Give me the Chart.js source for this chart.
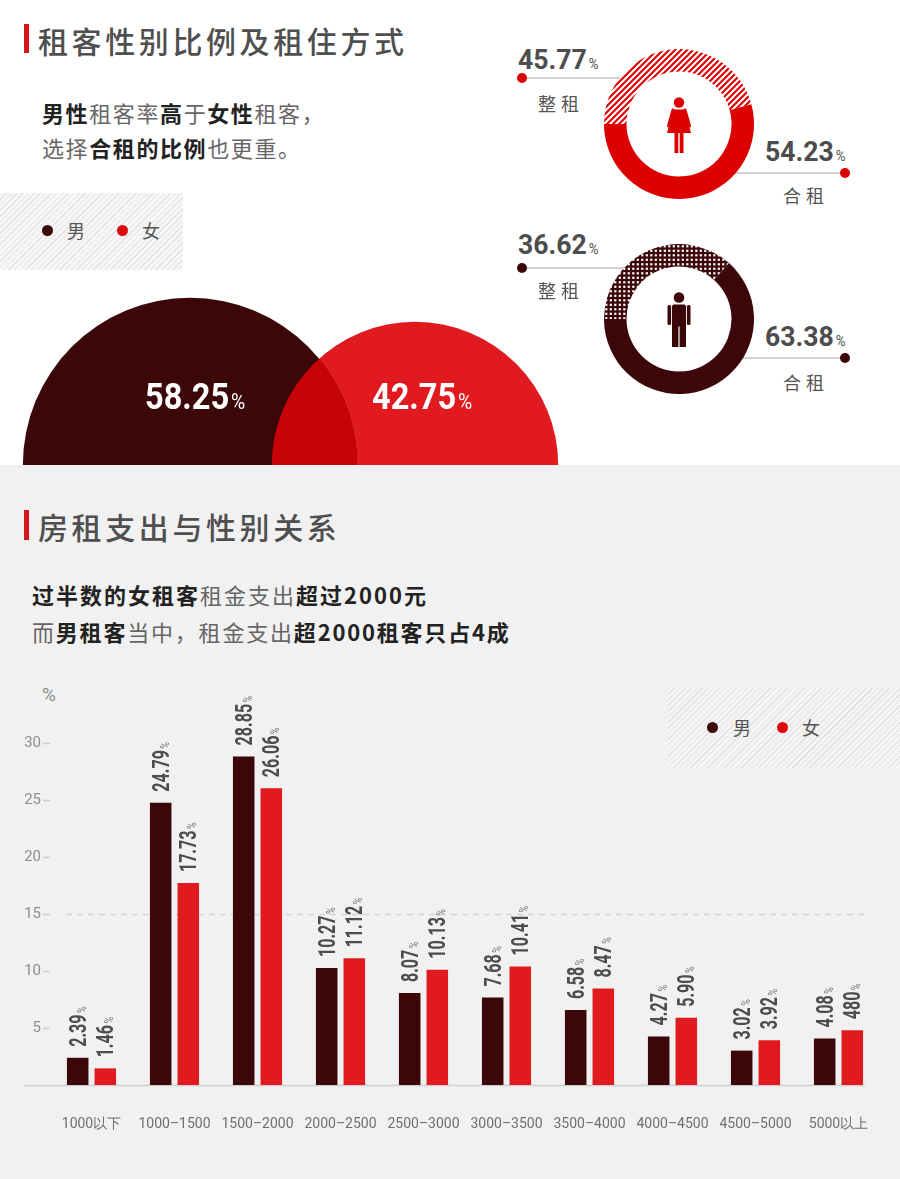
<!DOCTYPE html>
<html>
<head>
<meta charset="utf-8">
<script src="https://cdn.jsdelivr.net/npm/chart.js@4.4.1/dist/chart.umd.min.js"></script>
<style>
body { margin: 0; width: 900px; height: 1179px; overflow: hidden; position: relative; background: #f1f1f1; font-family: "Noto Sans CJK SC", sans-serif; }
#top { position: absolute; left: 0; top: 0; width: 900px; height: 465px; background: #fff; }
canvas { position: absolute; }
.redbar { position: absolute; left: 24px; width: 5px; background: #d5161b; }
.title { position: absolute; left: 38px; font-size: 30px; line-height: 30px; color: #4f4f4f; font-weight: 500; letter-spacing: 3.6px; white-space: nowrap; }
.sub { position: absolute; font-size: 22px; line-height: 22px; color: #666; white-space: nowrap; }
.sub b { color: #222; font-weight: 700; }
.legend { position: absolute; background: repeating-linear-gradient(135deg, #e3e3e3 0 1px, #f6f6f6 1px 4px); }
.dot { position: absolute; width: 11px; height: 11px; border-radius: 50%; }
.lt { position: absolute; font-size: 18px; line-height: 18px; color: #555; }
.num { position: absolute; font-family: Roboto, sans-serif; font-weight: 700; line-height: 1; white-space: nowrap; transform-origin: 0 0; }
.line { position: absolute; height: 1.5px; background: #d2d2d2; }
.mode { position: absolute; font-size: 18px; line-height: 18px; color: #555; letter-spacing: 5px; white-space: nowrap; }
.icon { position: absolute; }
</style>
</head>
<body>
<div id="top"></div>

<div class="redbar" style="top:24px;height:29px"></div>
<div class="title" style="top:25px">租客性别比例及租住方式</div>
<div class="sub" style="left:42px;top:101px;letter-spacing:1.6px"><b>男性</b>租客率<b>高</b>于<b>女性</b>租客，</div>
<div class="sub" style="left:42px;top:136px;letter-spacing:1.6px">选择<b>合租的比例</b>也更重。</div>

<div class="legend" style="left:0;top:193px;width:183px;height:77px"></div>
<div class="dot" style="left:41.5px;top:224.5px;background:#3b0708"></div>
<div class="lt" style="left:67px;top:221px">男</div>
<div class="dot" style="left:116.5px;top:224.5px;background:#dd0a0a"></div>
<div class="lt" style="left:142px;top:221px">女</div>

<div class="line" style="left:522px;top:77px;width:105px"></div>
<div class="line" style="left:730px;top:172px;width:115px"></div>
<div class="line" style="left:522px;top:267px;width:108px"></div>
<div class="line" style="left:735px;top:357px;width:110px"></div>
<div class="dot" style="left:517px;top:73px;width:10px;height:10px;background:#dd0000"></div>
<div class="dot" style="left:840px;top:168px;width:10px;height:10px;background:#dd0000"></div>
<div class="dot" style="left:517px;top:263px;width:10px;height:10px;background:#3b0708"></div>
<div class="dot" style="left:840px;top:353px;width:10px;height:10px;background:#3b0708"></div>

<canvas id="circles" width="675" height="195" style="left:-35px;top:270px;width:675px;height:195px"></canvas>
<canvas id="donutF" width="150" height="150" style="left:604px;top:49px;width:150px;height:150px"></canvas>
<canvas id="donutM" width="150" height="150" style="left:604px;top:244px;width:150px;height:150px"></canvas>

<svg class="icon" style="left:666px;top:97px" width="26" height="56" viewBox="0 0 26 56">
  <circle cx="13" cy="5.5" r="5.2" fill="#dd0000"/>
  <path d="M7.5 12.5 H18.5 L25 36 H1 Z" fill="#dd0000"/>
  <path d="M7 13 L2.5 29" stroke="#dd0000" stroke-width="3" stroke-linecap="round"/>
  <path d="M19 13 L23.5 29" stroke="#dd0000" stroke-width="3" stroke-linecap="round"/>
  <rect x="8.5" y="35" width="3.8" height="21" fill="#dd0000"/>
  <rect x="13.7" y="35" width="3.8" height="21" fill="#dd0000"/>
</svg>
<svg class="icon" style="left:667px;top:292px" width="24" height="55" viewBox="0 0 24 55">
  <circle cx="12" cy="5.5" r="5.3" fill="#3b0708"/>
  <rect x="5" y="12.5" width="14" height="22" rx="2" fill="#3b0708"/>
  <rect x="0.5" y="13" width="3.6" height="20" rx="1.5" fill="#3b0708"/>
  <rect x="19.9" y="13" width="3.6" height="20" rx="1.5" fill="#3b0708"/>
  <rect x="5" y="33" width="6.4" height="22" fill="#3b0708"/>
  <rect x="12.6" y="33" width="6.4" height="22" fill="#3b0708"/>
</svg>

<div class="redbar" style="top:510px;height:30px"></div>
<div class="title" style="top:511px">房租支出与性别关系</div>
<div class="sub" style="left:32px;top:583px;letter-spacing:2px"><b>过半数的女租客</b>租金支出<b>超过2000元</b></div>
<div class="sub" style="left:32px;top:620px;letter-spacing:1.8px">而<b>男租客</b>当中，租金支出<b>超2000租客只占4成</b></div>

<div class="lt" style="left:42px;top:685px;font-family:Roboto,sans-serif;color:#8a8a8a;font-size:19px;line-height:19px">%</div>

<div class="legend" style="left:668px;top:688px;width:232px;height:80px;background:repeating-linear-gradient(135deg,#e2e2e2 0 1px,#f4f4f4 1px 4px)"></div>
<div class="dot" style="left:706.5px;top:721.5px;background:#3b0708"></div>
<div class="lt" style="left:733px;top:718px">男</div>
<div class="dot" style="left:776.5px;top:721.5px;background:#dd0a0a"></div>
<div class="lt" style="left:802px;top:718px">女</div>

<canvas id="bars" width="900" height="465" style="left:0;top:680px;width:900px;height:465px"></canvas>

<script>
// 租客性别比例
var genderLabels = ['男', '女'];
var genderShare = [58.25, 42.75];

// 租住方式
var modeLabels = ['整租', '合租'];
var femaleMode = [45.77, 54.23];
var maleMode = [36.62, 63.38];

// 房租支出与性别
var rentRanges = ['1000以下', '1000–1500', '1500–2000', '2000–2500', '2500–3000', '3000–3500', '3500–4000', '4000–4500', '4500–5000', '5000以上'];
var maleRent = [2.39, 24.79, 28.85, 10.27, 8.07, 7.68, 6.58, 4.27, 3.02, 4.08];
var femaleRent = [1.46, 17.73, 26.06, 11.12, 10.13, 10.41, 8.47, 5.90, 3.92, 4.80];
var maleRentText = ['2.39', '24.79', '28.85', '10.27', '8.07', '7.68', '6.58', '4.27', '3.02', '4.08'];
var femaleRentText = ['1.46', '17.73', '26.06', '11.12', '10.13', '10.41', '8.47', '5.90', '3.92', '480'];
var yTicks = [5, 10, 15, 20, 25, 30];
var dashedAt = 15;

var MAROON = '#3b0708';
var RED = '#e01a1e';
var DONUT_RED = '#dd0000';
var LENS = '#c80308';

function stripePattern(color) {
    var s = 6;
    var c = document.createElement('canvas');
    c.width = s; c.height = s;
    var g = c.getContext('2d');
    g.fillStyle = '#fff';
    g.fillRect(0, 0, s, s);
    g.strokeStyle = color;
    g.lineWidth = 2.1;
    g.beginPath();
    g.moveTo(0, s); g.lineTo(s, 0);
    g.moveTo(-s / 2, s / 2); g.lineTo(s / 2, -s / 2);
    g.moveTo(s / 2, s * 1.5); g.lineTo(s * 1.5, s / 2);
    g.stroke();
    return g.createPattern(c, 'repeat');
}

function dotPattern(color) {
    var s = 4.5;
    var c = document.createElement('canvas');
    c.width = 9; c.height = 9;
    var g = c.getContext('2d');
    g.fillStyle = color;
    g.fillRect(0, 0, 9, 9);
    g.fillStyle = '#fff';
    for (var i = 0; i < 2; i++) {
        for (var j = 0; j < 2; j++) {
            g.fillRect(1.2 + i * s, 1.2 + j * s, 2.2, 2.2);
        }
    }
    return g.createPattern(c, 'repeat');
}

function addNumber(value, left, top, size, pctSize, color, sx) {
    var d = document.createElement('div');
    d.className = 'num';
    d.style.left = left + 'px';
    d.style.top = top + 'px';
    d.style.fontSize = size + 'px';
    d.style.color = color;
    d.style.transform = 'scaleX(' + sx + ')';
    d.innerHTML = value.toFixed(2) + '<span style="font-size:' + pctSize + 'px;font-weight:400;margin-left:2px">%</span>';
    document.body.appendChild(d);
}

function addMode(text, left, top) {
    var d = document.createElement('div');
    d.className = 'mode';
    d.style.left = left + 'px';
    d.style.top = top + 'px';
    d.textContent = text;
    document.body.appendChild(d);
}

// 数字标注
addNumber(genderShare[0], 145, 378, 37, 22, '#fff', 0.88);
addNumber(genderShare[1], 372, 378, 37, 22, '#fff', 0.88);
addNumber(femaleMode[0], 518, 46, 28, 14, '#4d4d4d', 0.95);
addNumber(femaleMode[1], 765, 138, 28, 14, '#4d4d4d', 0.95);
addNumber(maleMode[0], 518, 231, 28, 14, '#4d4d4d', 0.95);
addNumber(maleMode[1], 765, 323, 28, 14, '#4d4d4d', 0.95);
addMode(modeLabels[0], 538, 94);
addMode(modeLabels[1], 783, 186);
addMode(modeLabels[0], 538, 281);
addMode(modeLabels[1], 783, 373);

var noEvents = { legend: { display: false }, tooltip: { enabled: false } };

// 两个半圆：男 / 女
var lensPlugin = {
    id: 'lens',
    afterDatasetsDraw: function (chart) {
        var a = chart.getDatasetMeta(0).data[0];
        var b = chart.getDatasetMeta(1).data[0];
        var ctx = chart.ctx;
        ctx.save();
        ctx.beginPath();
        ctx.arc(a.x, a.y, a.options.radius, 0, Math.PI * 2);
        ctx.clip();
        ctx.beginPath();
        ctx.arc(b.x, b.y, b.options.radius, 0, Math.PI * 2);
        ctx.fillStyle = LENS;
        ctx.fill();
        ctx.restore();
    }
};

new Chart(document.getElementById('circles'), {
    type: 'bubble',
    data: {
        datasets: genderShare.map(function (v, i) {
            return {
                label: genderLabels[i],
                data: [{ x: i, y: 0, r: 21.9 * Math.sqrt(v) }],
                backgroundColor: [MAROON, RED][i],
                borderWidth: 0,
                hoverRadius: 0,
                clip: false
            };
        })
    },
    options: {
        responsive: false,
        animation: false,
        events: [],
        layout: { padding: 0, autoPadding: false },
        scales: {
            x: { type: 'linear', display: false, min: -1, max: 2 },
            y: { display: false, min: 0, max: 1 }
        },
        plugins: noEvents
    },
    plugins: [lensPlugin]
});

// 租住方式环形图
function donut(id, values, patterned, solid) {
    new Chart(document.getElementById(id), {
        type: 'doughnut',
        data: {
            labels: modeLabels,
            datasets: [{ data: values, backgroundColor: [patterned, solid], borderWidth: 0 }]
        },
        options: {
            responsive: false,
            animation: false,
            events: [],
            cutout: '70%',
            rotation: -90,
            plugins: noEvents
        }
    });
}
donut('donutF', femaleMode, stripePattern(DONUT_RED), DONUT_RED);
donut('donutM', maleMode, dotPattern(MAROON), MAROON);

// 房租柱状图
var baselinePlugin = {
    id: 'baseline',
    beforeDatasetsDraw: function (chart) {
        var ctx = chart.ctx, area = chart.chartArea, y = chart.scales.y;
        ctx.save();
        ctx.strokeStyle = '#d6d6d6';
        ctx.lineWidth = 1.5;
        ctx.setLineDash([6, 5]);
        var yd = Math.round(y.getPixelForValue(dashedAt)) + 0.5;
        ctx.beginPath();
        ctx.moveTo(area.left + 16, yd);
        ctx.lineTo(area.right - 15, yd);
        ctx.stroke();
        ctx.setLineDash([]);
        ctx.strokeStyle = '#cfcfcf';
        var y0 = y.getPixelForValue(0) + 0.5;
        ctx.beginPath();
        ctx.moveTo(area.left - 26, y0);
        ctx.lineTo(area.right - 15, y0);
        ctx.stroke();
        ctx.restore();
    }
};

var barLabelPlugin = {
    id: 'barLabels',
    afterDatasetsDraw: function (chart) {
        var ctx = chart.ctx;
        var texts = [maleRentText, femaleRentText];
        chart.data.datasets.forEach(function (ds, di) {
            chart.getDatasetMeta(di).data.forEach(function (bar, i) {
                var t = texts[di][i];
                ctx.save();
                ctx.translate(bar.x, bar.y - 11);
                ctx.rotate(-Math.PI / 2);
                ctx.scale(0.7, 1);
                ctx.textAlign = 'left';
                ctx.textBaseline = 'alphabetic';
                ctx.font = 'bold 23px Roboto';
                ctx.fillStyle = '#4d4d4d';
                ctx.fillText(t, 0, 8);
                var w = ctx.measureText(t).width;
                ctx.font = '13px Roboto';
                ctx.fillStyle = '#777';
                ctx.fillText('%', w + 2, 8);
                ctx.restore();
            });
        });
    }
};

new Chart(document.getElementById('bars'), {
    type: 'bar',
    data: {
        labels: rentRanges,
        datasets: [
            { label: genderLabels[0], data: maleRent, backgroundColor: MAROON },
            { label: genderLabels[1], data: femaleRent, backgroundColor: RED }
        ]
    },
    options: {
        responsive: false,
        animation: false,
        events: [],
        layout: { padding: { right: 20 }, autoPadding: false },
        datasets: { bar: { categoryPercentage: 0.665, barPercentage: 0.78, borderWidth: 0 } },
        scales: {
            x: {
                afterFit: function (s) { s.height = 60; },
                grid: { display: false },
                border: { display: false },
                ticks: { font: { family: 'Roboto', size: 14 }, color: '#707070', padding: 23, maxRotation: 0, autoSkip: false }
            },
            y: {
                min: 0,
                max: 34.6,
                afterBuildTicks: function (s) { s.ticks = yTicks.map(function (v) { return { value: v }; }); },
                afterFit: function (s) { s.width = 50; },
                grid: { drawOnChartArea: false, tickLength: 7, tickColor: '#cfcfcf', tickWidth: 1.5 },
                border: { display: false },
                ticks: { font: { family: 'Roboto', size: 15 }, color: '#8e8e8e', padding: 2 }
            }
        },
        plugins: noEvents
    },
    plugins: [baselinePlugin, barLabelPlugin]
});
</script>
</body>
</html>
